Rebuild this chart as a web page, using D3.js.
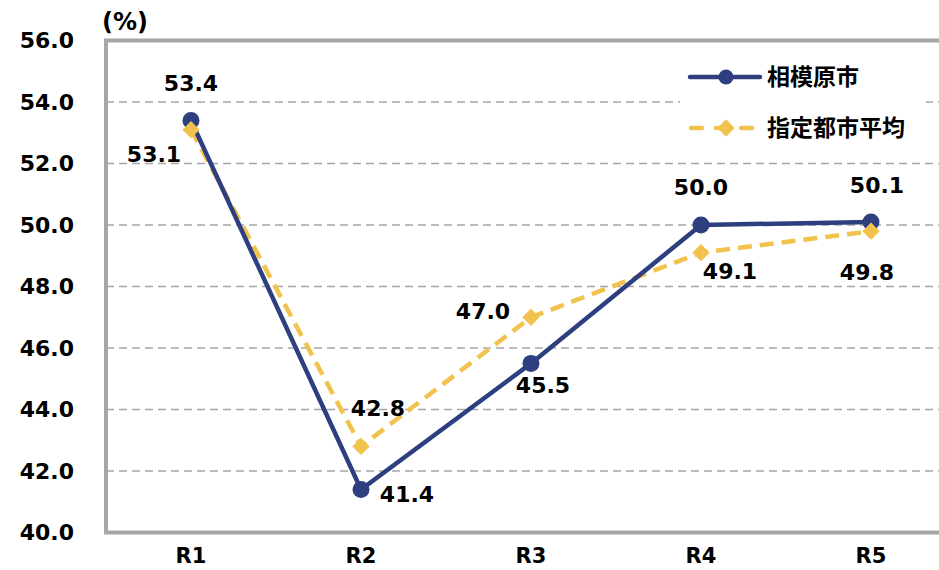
<!DOCTYPE html>
<html><head><meta charset="utf-8">
<script src="https://cdn.jsdelivr.net/npm/d3@7"></script>
<style>body{margin:0;background:#fff}svg{display:block}text{font-family:"DejaVu Sans",Verdana,"Noto Sans CJK JP",sans-serif;font-weight:bold;fill:#000}</style>
</head><body><svg id="c" width="939" height="570"></svg>
<script>
const categories = ["R1","R2","R3","R4","R5"];
const sagamihara = [53.4, 41.4, 45.5, 50.0, 50.1];
const cityAvg = [53.1, 42.8, 47.0, 49.1, 49.8];
const yTicks = [40,42,44,46,48,50,52,54,56];
const seriesNames = ["相模原市","指定都市平均"];
// label offsets (dx, dy) relative to point
const labelOff1 = [[0,-37],[46,5],[12,22],[0,-38],[6,-36]];
const labelOff2 = [[-37,25],[17,-38],[-48,-6],[29,19],[-4,41]];

const svg = d3.select("#c");
const L=106, T=40.5, B=532.5, R=956;
const x = d3.scaleBand().domain(categories).range([L,R]);
const y = d3.scaleLinear().domain([40,56]).range([B,T]);
const cx = d => x(d)+x.bandwidth()/2;
const navy="#2E3F7F", gold="#F2C34C", gray="#A6A6A6";

// gridlines
svg.append("g").selectAll("line").data(yTicks.filter(t=>t>40&&t<56)).join("line")
  .attr("x1",L).attr("x2",R).attr("y1",d=>y(d)).attr("y2",d=>y(d))
  .attr("stroke",gray).attr("stroke-width",1.5).attr("stroke-dasharray","8,5");

// legend box (white)
svg.append("rect").attr("x",680).attr("y",55).attr("width",246).attr("height",95).attr("fill","#fff");

// border
svg.append("path").attr("d",`M${R},${T}H${L}V${B}H${R}`).attr("fill","none").attr("stroke",gray).attr("stroke-width",4);

// y axis labels
const ya = d3.axisLeft(y).tickValues(yTicks).tickFormat(d3.format(".1f")).tickSize(0).tickPadding(32);
const g = svg.append("g").attr("transform",`translate(${L},0)`).call(ya);
g.select(".domain").remove();
g.selectAll("text").attr("font-size",22).attr("font-family","DejaVu Sans").attr("font-weight","bold").attr("fill","#000");

// x axis labels
const xa = d3.axisBottom(x).tickSize(0).tickPadding(16);
const gx = svg.append("g").attr("transform",`translate(0,${B})`).call(xa);
gx.select(".domain").remove();
gx.selectAll("text").attr("font-size",21).attr("font-family","DejaVu Sans").attr("font-weight","bold").attr("fill","#000");

svg.append("text").attr("x",102).attr("y",30).attr("font-size",24).text("(%)");

const line = d3.line().x((d,i)=>cx(categories[i])).y(d=>y(d));
svg.append("path").datum(cityAvg).attr("d",line).attr("fill","none").attr("stroke",gold).attr("stroke-width",4.5).attr("stroke-dasharray","14,8");
svg.append("path").datum(sagamihara).attr("d",line).attr("fill","none").attr("stroke",navy).attr("stroke-width",4.5);

svg.append("g").selectAll("circle").data(sagamihara).join("circle")
  .attr("cx",(d,i)=>cx(categories[i])).attr("cy",d=>y(d)).attr("r",8.5).attr("fill",navy);
const diamond = d3.symbol().type(d3.symbolSquare).size(150);
svg.append("g").selectAll("path").data(cityAvg).join("path")
  .attr("d",diamond).attr("transform",(d,i)=>`translate(${cx(categories[i])},${y(d)}) rotate(45)`).attr("fill",gold);

const fmt = d => d.toFixed(1);
svg.append("g").selectAll("text").data(sagamihara).join("text")
  .attr("x",(d,i)=>cx(categories[i])+labelOff1[i][0]).attr("y",(d,i)=>y(d)+labelOff1[i][1])
  .attr("text-anchor","middle").attr("dominant-baseline","central").attr("font-size",22).text(fmt);
svg.append("g").selectAll("text").data(cityAvg).join("text")
  .attr("x",(d,i)=>cx(categories[i])+labelOff2[i][0]).attr("y",(d,i)=>y(d)+labelOff2[i][1])
  .attr("text-anchor","middle").attr("dominant-baseline","central").attr("font-size",22).text(fmt);

// legend
const lg = svg.append("g");
lg.append("line").attr("x1",690).attr("x2",760).attr("y1",77).attr("y2",77).attr("stroke",navy).attr("stroke-width",4.5).attr("stroke-linecap","round");
lg.append("circle").attr("cx",726).attr("cy",77).attr("r",7.5).attr("fill",navy);
lg.append("line").attr("x1",691).attr("x2",760).attr("y1",128).attr("y2",128).attr("stroke",gold).attr("stroke-width",4.5).attr("stroke-dasharray","11,14").attr("stroke-linecap","round");
lg.append("path").attr("d",diamond).attr("transform","translate(726,128) rotate(45)").attr("fill",gold);
lg.selectAll("text").data(seriesNames).join("text").attr("x",767).attr("y",(d,i)=>77+i*51)
  .attr("dominant-baseline","central").attr("font-size",23).attr("font-family","Noto Sans CJK JP").text(d=>d);
</script></body></html>
